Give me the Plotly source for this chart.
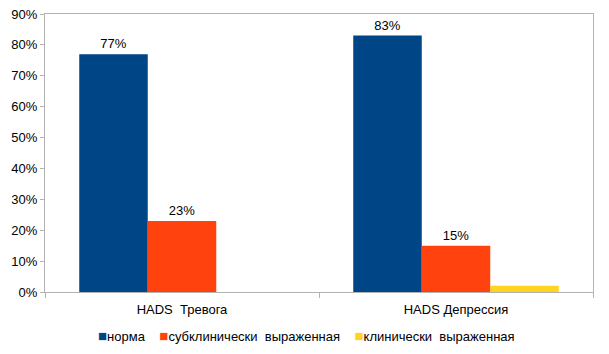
import plotly.graph_objects as go

categories = ["HADS  Тревога", "HADS Депрессия"]
series_names = ["норма", "субклинически  выраженная", "клинически  выраженная"]
norma = [77, 83]
subclin = [23, 15]
clin = [0, 2]
labels_norma = ["77%", "83%"]
labels_subclin = ["23%", "15%"]
labels_clin = ["", ""]
colors = ["#004586", "#FF420E", "#FFD320"]
y_ticks = [0, 10, 20, 30, 40, 50, 60, 70, 80, 90]

fig = go.Figure()
for name, vals, labs, col in zip(series_names, [norma, subclin, clin],
                                  [labels_norma, labels_subclin, labels_clin], colors):
    fig.add_trace(go.Bar(x=categories, y=vals, name=name, marker_color=col,
                         marker_line_width=0, text=labs, textposition="outside",
                         textfont=dict(size=13, color="#000000"), cliponaxis=False,
                         showlegend=False))

# legend drawn as a single line of text with coloured squares
legend_parts = []
for name, col in zip(series_names, colors):
    legend_parts.append(f"<span style='color:{col};font-size:15px'>■</span>{name}")
legend_text = "&nbsp;&nbsp;&nbsp;&nbsp;".join(legend_parts)

fig.add_annotation(text=legend_text, xref="paper", yref="paper",
                   x=0.478, y=-0.158, xanchor="center", yanchor="middle",
                   showarrow=False, font=dict(size=13, color="#000000"))

fig.update_layout(
    width=609, height=354,
    margin=dict(l=45, r=16, t=14, b=62, autoexpand=False),
    paper_bgcolor="white", plot_bgcolor="white",
    barmode="group", bargap=0.25, bargroupgap=0,
    font=dict(family="Liberation Sans, Arial, sans-serif", size=13, color="#000000"),
    showlegend=False,
    xaxis=dict(type="category", showline=True, linecolor="#B3B3B3", linewidth=1,
               mirror=True, ticks="outside", tickson="boundaries", ticklen=5,
               tickcolor="#B3B3B3", showgrid=False, tickfont=dict(size=13),
               ticklabelstandoff=5),
    yaxis=dict(range=[0, 90], tickvals=y_ticks, ticktext=[f"{v}%" for v in y_ticks],
               showline=True, linecolor="#B3B3B3", linewidth=1, mirror=True,
               ticks="outside", ticklen=4, tickcolor="#B3B3B3", showgrid=False,
               zeroline=False, tickfont=dict(size=13)),
)

fig.write_html("out.html", config={"displayModeBar": False},
               post_script="document.body.style.margin='0';document.body.style.padding='0';")
